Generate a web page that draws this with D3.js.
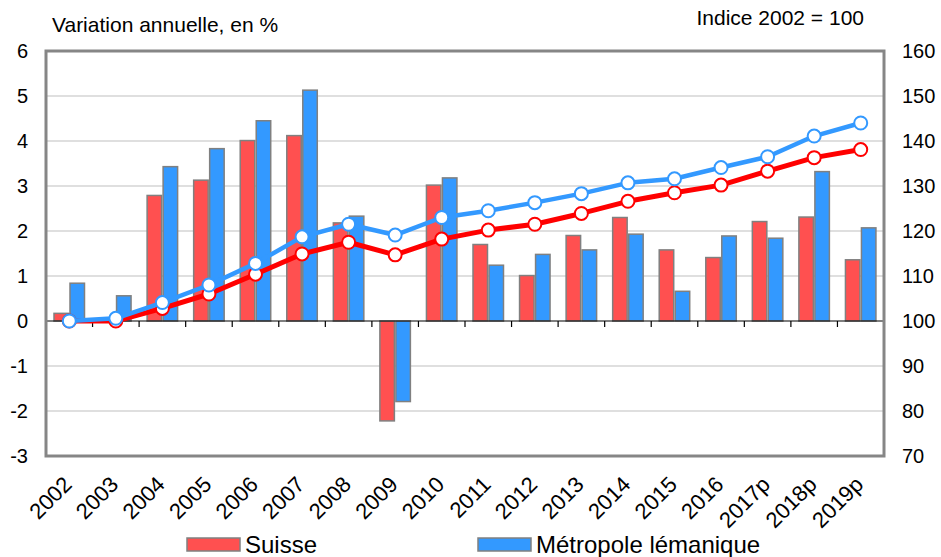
<!DOCTYPE html>
<html><head><meta charset="utf-8">
<script src="https://cdn.jsdelivr.net/npm/d3@7"></script>
<style>body{margin:0;background:#fff}svg{display:block;font-family:"Liberation Sans",Arial,sans-serif}</style>
</head><body><svg id="c" width="941" height="557"></svg>
<script>
const years = ["2002","2003","2004","2005","2006","2007","2008","2009","2010","2011","2012","2013","2014","2015","2016","2017p","2018p","2019p"];
const suisseVar = [0.17,0.02,2.79,3.13,4.01,4.12,2.18,-2.22,3.02,1.70,1.01,1.90,2.30,1.58,1.41,2.21,2.31,1.36];
const lemanVar = [0.84,0.56,3.43,3.83,4.45,5.13,2.33,-1.79,3.18,1.24,1.48,1.58,1.93,0.66,1.89,1.84,3.32,2.07];
const suisseIdx = [100,100.0,102.8,106.0,110.4,114.9,117.5,114.7,118.2,120.2,121.5,123.9,126.6,128.5,130.2,133.3,136.3,138.1];
const lemanIdx = [100,100.6,104.1,108.0,112.8,118.7,121.5,119.1,123.0,124.5,126.3,128.3,130.7,131.6,134.1,136.5,141.1,144.0];
const leftTicks = [-3,-2,-1,0,1,2,3,4,5,6];
const rightTicks = [70,80,90,100,110,120,130,140,150,160];
const seriesNames = ["Suisse","Métropole lémanique"];
const leftTitle = "Variation annuelle, en %";
const rightTitle = "Indice 2002 = 100";

const svg = d3.select("#c");
const L = 46, R = 884, T = 51, B = 456;
const x = d3.scaleBand().domain(years).range([L, R]).paddingInner(0).paddingOuter(0);
const yL = d3.scaleLinear().domain([-3, 6]).range([B, T]);
const yR = d3.scaleLinear().domain([70, 160]).range([B, T]);
const barColors = ["#FF5050", "#3399FF"];
const lineColors = ["#FF0000", "#3399FF"];

// gridlines
svg.append("g").selectAll("line").data(leftTicks.filter(d => d !== 0 && d !== -3 && d !== 6)).join("line")
  .attr("x1", L).attr("x2", R).attr("y1", d => yL(d)).attr("y2", d => yL(d))
  .attr("stroke", "#d4d4d4").attr("stroke-width", 1.5);

// bars
const bw = 14.5;
const offs = [8, 24];
[suisseVar, lemanVar].forEach((vals, si) => {
  svg.append("g").selectAll("rect").data(vals).join("rect")
    .attr("x", (d, i) => x(years[i]) + offs[si])
    .attr("width", bw)
    .attr("y", d => Math.min(yL(d), yL(0)))
    .attr("height", d => Math.abs(yL(d) - yL(0)))
    .attr("fill", barColors[si]).attr("stroke", "#808080").attr("stroke-width", 1.5);
});

// zero axis with ticks
const xa = svg.append("g").attr("transform", `translate(0,${yL(0)})`);
xa.append("line").attr("x1", L).attr("x2", R).attr("stroke", "#000").attr("stroke-width", 1.2);
const bounds = years.map(y => x(y)).concat([R]);
xa.selectAll("line.t").data(bounds).join("line").attr("class", "t")
  .attr("x1", d => d).attr("x2", d => d).attr("y1", 0).attr("y2", 6)
  .attr("stroke", "#000").attr("stroke-width", 1.2);

// frame
svg.append("rect").attr("x", L).attr("y", T).attr("width", R - L).attr("height", B - T)
  .attr("fill", "none").attr("stroke", "#868686").attr("stroke-width", 3);

// lines
const cx = d => x(d) + x.bandwidth() / 2;
[[suisseIdx, 0, 5], [lemanIdx, 1, 4.5]].forEach(([vals, si, w]) => {
  const line = d3.line().x((d, i) => cx(years[i])).y(d => yR(d));
  svg.append("path").datum(vals).attr("d", line).attr("fill", "none")
    .attr("stroke", lineColors[si]).attr("stroke-width", w).attr("stroke-linejoin", "round");
  svg.append("g").selectAll("circle").data(vals).join("circle")
    .attr("cx", (d, i) => cx(years[i])).attr("cy", d => yR(d)).attr("r", 6.5)
    .attr("fill", "#fff").attr("stroke", lineColors[si]).attr("stroke-width", 2);
});

// axis labels
const fs = 20;
svg.append("g").selectAll("text").data(leftTicks).join("text")
  .attr("x", 28).attr("y", d => yL(d)).attr("dy", "0.36em").attr("text-anchor", "end")
  .attr("font-size", fs).attr("fill", "#000").text(d => d);
svg.append("g").selectAll("text").data(rightTicks).join("text")
  .attr("x", 902).attr("y", d => yR(d)).attr("dy", "0.36em").attr("text-anchor", "start")
  .attr("font-size", fs).attr("fill", "#000").text(d => d);
svg.append("g").selectAll("text").data(years).join("text")
  .attr("transform", d => `translate(${cx(d) - 7},${475}) rotate(-45)`)
  .attr("text-anchor", "end").attr("dy", "0.7em")
  .attr("font-size", 22).attr("fill", "#000").text(d => d);

svg.append("text").attr("x", 52).attr("y", 32).attr("font-size", 21).text(leftTitle);
svg.append("text").attr("x", 864).attr("y", 25).attr("font-size", 21).attr("text-anchor", "end").text(rightTitle);

// legend
const legX = [187, 478];
seriesNames.forEach((n, i) => {
  svg.append("rect").attr("x", legX[i]).attr("y", 538).attr("width", 53).attr("height", 13)
    .attr("fill", barColors[i]).attr("stroke", "#808080").attr("stroke-width", 1.5);
  svg.append("text").attr("x", legX[i] + 58).attr("y", 553).attr("font-size", 24).text(n);
});
</script></body></html>
